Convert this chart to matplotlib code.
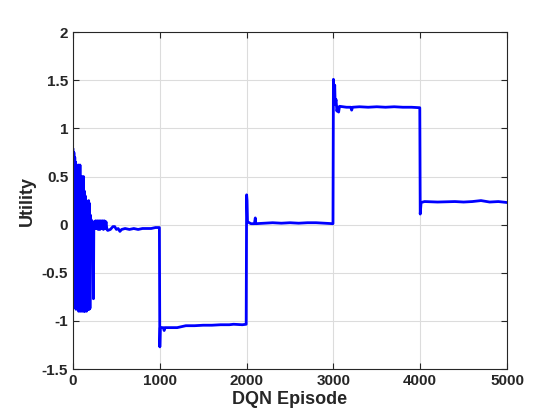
import matplotlib
matplotlib.use("Agg")
import matplotlib.pyplot as plt

# Episode indices and utility values
episodes = [
    0, 5, 10, 15, 20, 25, 30, 35, 40, 45, 50, 55, 60, 65, 70, 75, 80, 85, 90, 95,
    100, 105, 110, 115, 120, 125, 130, 135, 140, 145, 150, 155, 160, 165, 170, 175,
    180, 185, 190, 195, 200, 205, 210, 215, 220, 228, 235, 240,
    250, 260, 270, 280, 290, 300, 310, 320, 330, 340, 350, 360, 370, 380, 390,
    400, 430, 460, 480, 500, 520, 540, 560, 600, 650, 700, 750, 800, 850, 900, 950, 995,
    1000, 1005, 1040, 1050, 1060, 1150, 1200, 1250, 1300, 1400, 1500, 1600, 1700,
    1800, 1850, 1950, 1995,
    2000, 2005, 2010, 2050, 2090, 2100, 2105, 2200, 2300, 2400, 2500, 2600, 2700,
    2800, 2900, 2995,
    3000, 3008, 3015, 3020, 3030, 3040, 3050, 3060, 3070, 3150, 3200, 3210, 3220,
    3300, 3400, 3500, 3600, 3700, 3800, 3900, 3995,
    4000, 4010, 4050, 4200, 4400, 4500, 4600, 4700, 4800, 4900, 5000,
]
utility = [
    0.78, -0.55, 0.75, -0.60, 0.70, -0.86, 0.65, -0.88, 0.60, -0.80, 0.55, -0.85,
    0.62, -0.90, 0.50, -0.88, 0.62, -0.90, 0.45, -0.85,
    0.50, -0.90, 0.40, -0.88, 0.50, -0.90, 0.35, -0.90, 0.30, -0.88, 0.25, -0.90,
    0.20, -0.85, 0.15, -0.88, 0.25, -0.88, 0.22, -0.87, 0.10, -0.30, 0.05, -0.10,
    0.02, 0.00, -0.77, 0.03,
    -0.04, 0.04, -0.04, 0.04, -0.05, 0.04, -0.05, 0.04, -0.04, 0.04, -0.05, 0.04,
    -0.04, 0.03, -0.05,
    -0.06, -0.05, -0.02, -0.02, -0.05, -0.04, -0.07, -0.05, -0.04, -0.05, -0.04,
    -0.05, -0.04, -0.04, -0.04, -0.03, -0.03,
    -1.27, -1.07, -1.07, -1.10, -1.07, -1.07, -1.07, -1.06, -1.05, -1.05, -1.045,
    -1.045, -1.04, -1.04, -1.035, -1.04, -1.035,
    0.31, 0.25, 0.03, 0.01, 0.01, 0.07, 0.01, 0.015, 0.02, 0.015, 0.02, 0.015,
    0.02, 0.02, 0.015, 0.01,
    1.51, 1.35, 1.45, 1.25, 1.30, 1.18, 1.22, 1.17, 1.23, 1.22, 1.22, 1.19, 1.22,
    1.225, 1.22, 1.225, 1.22, 1.225, 1.22, 1.22, 1.215,
    0.11, 0.23, 0.24, 0.235, 0.24, 0.235, 0.24, 0.25, 0.235, 0.24, 0.23,
]

x_ticks = [0, 1000, 2000, 3000, 4000, 5000]
y_ticks = [-1.5, -1, -0.5, 0, 0.5, 1, 1.5, 2]
y_tick_labels = ["-1.5", "-1", "-0.5", "0", "0.5", "1", "1.5", "2"]

plt.rcParams["font.family"] = ["Liberation Sans", "DejaVu Sans"]
dark = "#262626"

fig = plt.figure(figsize=(5.6, 4.2), dpi=100)
ax = fig.add_axes([0.1304, 0.1214, 0.775, 0.802])
ax.plot(episodes, utility, color=(0, 0, 1), linewidth=2.0)

ax.set_xlim(0, 5000)
ax.set_ylim(-1.5, 2)
ax.set_xticks(x_ticks)
ax.set_yticks(y_ticks)
ax.set_yticklabels(y_tick_labels)
ax.grid(True, color="#dcdcdc", linewidth=0.8)
ax.set_axisbelow(True)
ax.tick_params(direction="in", top=True, right=True, length=4, width=0.8,
               colors=dark, labelsize=11)
for lbl in ax.get_xticklabels() + ax.get_yticklabels():
    lbl.set_fontweight("bold")
for s in ax.spines.values():
    s.set_color(dark)
    s.set_linewidth(0.8)

ax.set_xlabel("DQN Episode", fontsize=13, fontweight="bold", color=dark, labelpad=2)
ax.set_ylabel("Utility", fontsize=13, fontweight="bold", color=dark, labelpad=4)

fig.savefig("out.png", dpi=100, facecolor="white")
